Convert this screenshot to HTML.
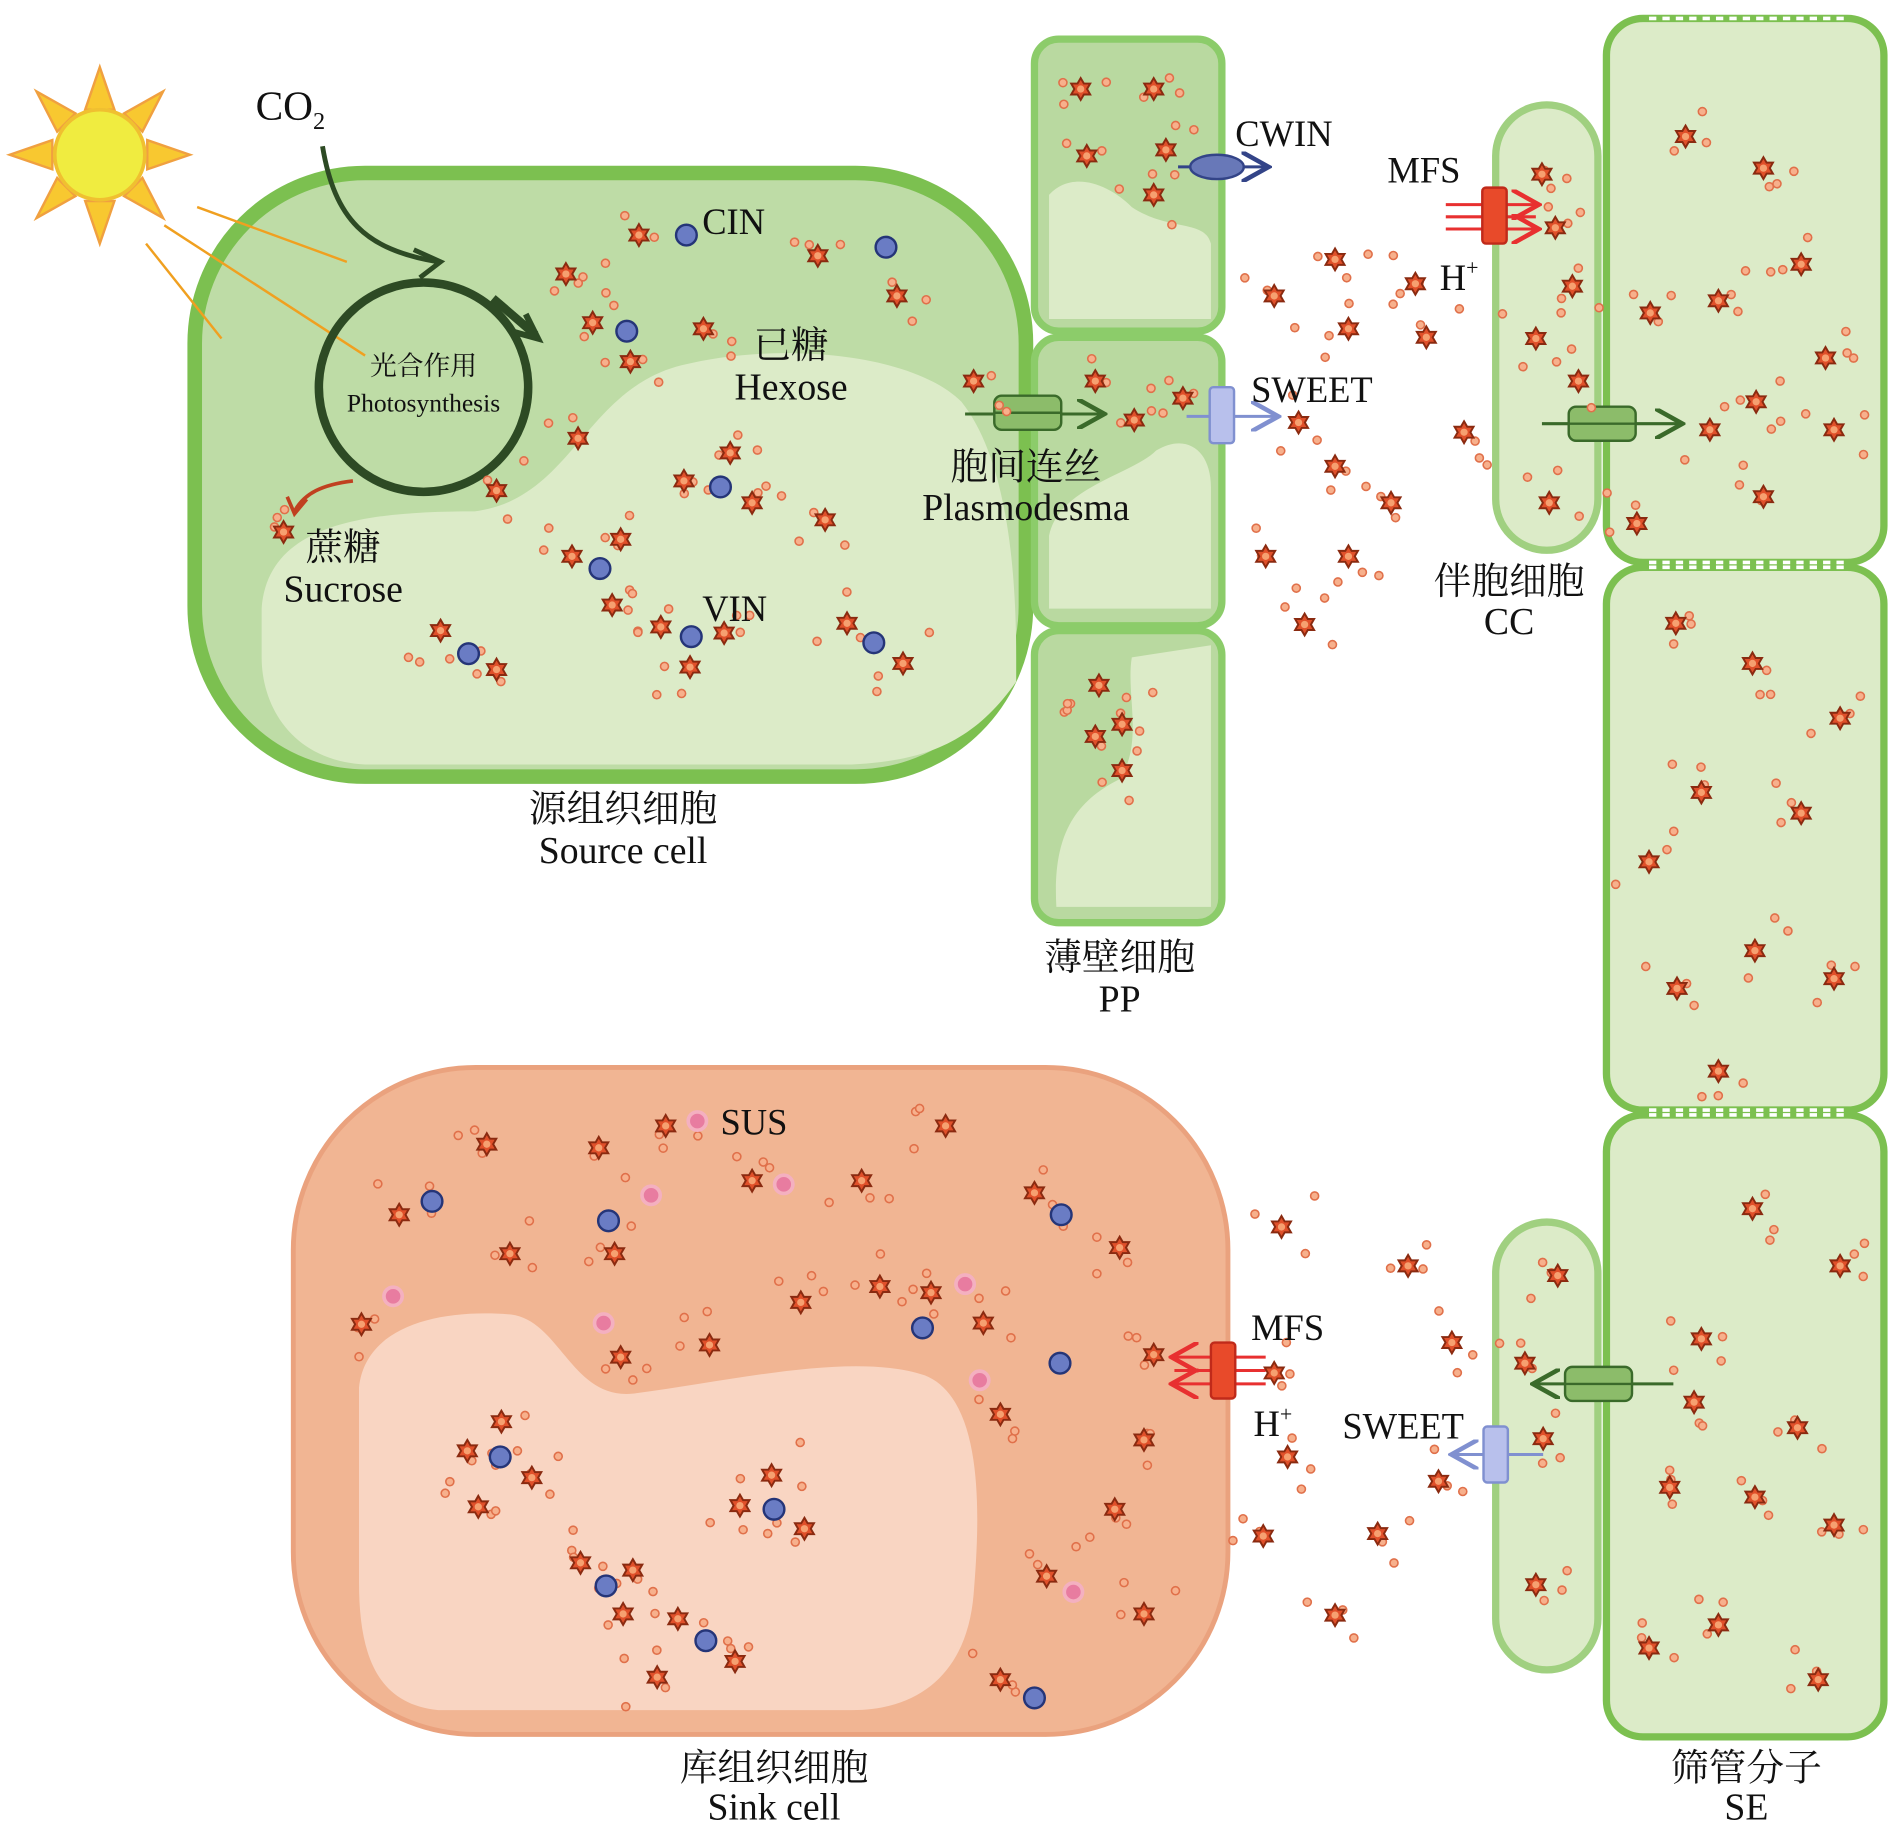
<!DOCTYPE html>
<html><head><meta charset="utf-8"><style>
html,body{margin:0;padding:0;background:#fff}
svg{display:block}
text{font-family:"Liberation Serif","Noto Serif CJK SC","Noto Sans CJK SC",serif;fill:#111}
</style></head><body>
<svg id="s" width="1890" height="1821" viewBox="0 0 1553 1496" xmlns="http://www.w3.org/2000/svg">
<defs>
<symbol id="st" viewBox="-10 -10 20 20" overflow="visible">
<polygon points="0,-9 2.6,-4.5 7.8,-4.5 5.2,0 7.8,4.5 2.6,4.5 0,9 -2.6,4.5 -7.8,4.5 -5.2,0 -7.8,-4.5 -2.6,-4.5" fill="#e0502a" stroke="#8a2a10" stroke-width="1.6"/>
<circle r="3" fill="#f6a070"/>
</symbol>
<marker id="ag" markerWidth="10" markerHeight="10" refX="8" refY="5" orient="auto"><path d="M0,0 L9,5 L0,10" fill="none" stroke="#3a6a2a" stroke-width="1.5"/></marker>
<marker id="ab" markerWidth="10" markerHeight="10" refX="8" refY="5" orient="auto"><path d="M0,0 L9,5 L0,10" fill="none" stroke="#8090d0" stroke-width="1.5"/></marker>
<marker id="ar" markerWidth="10" markerHeight="10" refX="8" refY="5" orient="auto"><path d="M0,0 L9,5 L0,10" fill="none" stroke="#e83030" stroke-width="1.5"/></marker>
<marker id="ad" markerWidth="10" markerHeight="10" refX="8" refY="5" orient="auto"><path d="M0,0 L9,5 L0,10" fill="none" stroke="#334488" stroke-width="1.5"/></marker>
</defs>
<!-- sun -->
<g fill="#f8c830" stroke="#f0a040" stroke-width="2">
<polygon points="82,55 94,90 70,90"/><polygon points="82,200 94,165 70,165"/>
<polygon points="8,127 43,115 43,139"/><polygon points="156,127 121,115 121,139"/>
<polygon points="30,75 62,93 47,108"/><polygon points="134,75 102,93 117,108"/>
<polygon points="30,179 62,161 47,146"/><polygon points="134,179 102,161 117,146"/>
</g>
<circle cx="82" cy="127" r="37" fill="#f0ec40" stroke="#f0c030" stroke-width="3"/>
<!-- source cell -->
<rect x="160" y="142" width="683" height="496" rx="140" fill="#bedca6" stroke="#7cc050" stroke-width="12"/>
<path d="M215,500 C220,430 300,420 390,420 C470,410 480,320 560,300 C640,280 750,290 790,330 C830,380 835,480 835,540 L835,560 C800,610 760,625 700,628 L300,628 C240,625 215,580 215,540 Z" fill="#dcebc8"/>
<line x1="162" y1="170" x2="285" y2="215" stroke="#f0a020" stroke-width="2"/>
<line x1="135" y1="185" x2="300" y2="292" stroke="#f0a020" stroke-width="2"/>
<line x1="120" y1="200" x2="182" y2="278" stroke="#f0a020" stroke-width="2"/>
<circle cx="348" cy="318" r="86" fill="none" stroke="#2d4a24" stroke-width="7"/>
<path d="M405,245 L440,275" stroke="#2d4a24" stroke-width="7" fill="none"/>
<path d="M265,120 C275,180 300,205 360,215" stroke="#2d4a24" stroke-width="4" fill="none"/>
<path d="M340,205 L362,215 L345,228" stroke="#2d4a24" stroke-width="4" fill="none"/>
<path d="M432,258 L442,278 L420,272" stroke="#2d4a24" stroke-width="5" fill="none"/>
<path d="M290,395 C265,398 250,405 242,420" stroke="#c04020" stroke-width="3" fill="none"/>
<path d="M236,408 L242,422 L252,410" stroke="#c04020" stroke-width="3" fill="none"/>
<!-- PP cells -->
<g fill="#b9d9a0" stroke="#8ccc6a" stroke-width="6">
<rect x="850" y="32" width="154" height="240" rx="20"/>
<rect x="850" y="277" width="154" height="237" rx="20"/>
<rect x="850" y="518" width="154" height="240" rx="20"/>
</g>
<g fill="#dcebc8">
<path d="M862,160 C880,140 910,150 930,170 C960,190 990,180 995,200 L995,262 L862,262 Z"/>
<path d="M862,440 C870,400 930,390 950,370 C975,355 995,370 995,400 L995,500 L862,500 Z"/>
<path d="M930,540 L995,530 L995,745 L868,745 C865,690 880,660 920,640 C940,610 925,570 930,540 Z"/>
</g>
<!-- CC -->
<rect x="1229" y="86" width="84" height="366" rx="42" fill="#dcebc8" stroke="#a0d080" stroke-width="6"/>
<rect x="1229" y="1004" width="84" height="368" rx="42" fill="#dcebc8" stroke="#a0d080" stroke-width="6"/>
<!-- SE -->
<g fill="#dcebc8" stroke="#7cc050" stroke-width="6">
<rect x="1320" y="15" width="228" height="447" rx="30"/>
<rect x="1320" y="466" width="228" height="446" rx="30"/>
<rect x="1320" y="916" width="228" height="511" rx="30"/>
</g>
<g stroke="#fff" stroke-width="3" stroke-dasharray="6,5">
<line x1="1355" y1="15" x2="1515" y2="15"/><line x1="1355" y1="462" x2="1515" y2="462"/>
<line x1="1355" y1="466" x2="1515" y2="466"/><line x1="1355" y1="912" x2="1515" y2="912"/>
<line x1="1355" y1="916" x2="1515" y2="916"/>
</g>
<!-- sink cell -->
<rect x="241" y="877" width="768" height="548" rx="150" fill="#f1b593" stroke="#eaa27e" stroke-width="4"/>
<path d="M295,1140 C300,1090 360,1075 420,1080 C460,1085 470,1150 520,1145 C600,1135 700,1110 760,1130 C810,1150 805,1250 800,1310 C795,1370 760,1405 700,1405 L360,1405 C310,1400 295,1360 295,1300 Z" fill="#f9d5c2"/>
<!-- transporters -->
<line x1="968" y1="137" x2="1040" y2="137" stroke="#334488" stroke-width="2.5" marker-end="url(#ad)"/>
<ellipse cx="1000" cy="137" rx="22" ry="10" fill="#6878b8" stroke="#334488" stroke-width="2"/>
<line x1="793" y1="340" x2="905" y2="340" stroke="#3a6a2a" stroke-width="2.5" marker-end="url(#ag)"/>
<rect x="817" y="325" width="55" height="28" rx="6" fill="#8cbc6a" stroke="#3a6a2a" stroke-width="2"/>
<line x1="817" y1="339" x2="872" y2="339" stroke="#3a6a2a" stroke-width="2"/>
<line x1="975" y1="342" x2="1048" y2="342" stroke="#8090d0" stroke-width="2.5" marker-end="url(#ab)"/>
<rect x="994" y="318" width="20" height="46" rx="3" fill="#b8c0ec" stroke="#8090d0" stroke-width="2"/>
<g stroke="#e83030" stroke-width="2.5"><line x1="1188" y1="168" x2="1262" y2="168" marker-end="url(#ar)"/><line x1="1188" y1="178" x2="1262" y2="178"/><line x1="1188" y1="188" x2="1262" y2="188" marker-end="url(#ar)"/></g>
<rect x="1218" y="154" width="20" height="46" rx="3" fill="#e84a2a" stroke="#c02a1a" stroke-width="2"/>
<line x1="1267" y1="348" x2="1380" y2="348" stroke="#3a6a2a" stroke-width="2.5" marker-end="url(#ag)"/>
<rect x="1289" y="334" width="55" height="28" rx="6" fill="#8cbc6a" stroke="#3a6a2a" stroke-width="2"/>
<line x1="1289" y1="348" x2="1344" y2="348" stroke="#3a6a2a" stroke-width="2"/>
<line x1="1375" y1="1137" x2="1262" y2="1137" stroke="#3a6a2a" stroke-width="2.5" marker-end="url(#ag)"/>
<rect x="1286" y="1123" width="55" height="28" rx="6" fill="#8cbc6a" stroke="#3a6a2a" stroke-width="2"/>
<line x1="1286" y1="1137" x2="1341" y2="1137" stroke="#3a6a2a" stroke-width="2"/>
<line x1="1268" y1="1195" x2="1195" y2="1195" stroke="#8090d0" stroke-width="2.5" marker-end="url(#ab)"/>
<rect x="1219" y="1172" width="20" height="46" rx="3" fill="#b8c0ec" stroke="#8090d0" stroke-width="2"/>
<g stroke="#e83030" stroke-width="2.5"><line x1="1040" y1="1115" x2="965" y2="1115" marker-end="url(#ar)"/><line x1="1040" y1="1126" x2="965" y2="1126"/><line x1="1040" y1="1137" x2="965" y2="1137" marker-end="url(#ar)"/></g>
<rect x="995" y="1103" width="20" height="46" rx="3" fill="#e84a2a" stroke="#c02a1a" stroke-width="2"/>
<g id="dots"></g>
<!-- labels -->
<text x="210" y="98" font-size="34">CO<tspan font-size="20" dy="8">2</tspan></text>
<text x="577" y="192" font-size="30">CIN</text>
<text x="348" y="308" font-size="22" text-anchor="middle">光合作用</text>
<text x="348" y="338" font-size="21" text-anchor="middle">Photosynthesis</text>
<text x="650" y="294" font-size="31" text-anchor="middle">已糖</text>
<text x="650" y="328" font-size="31" text-anchor="middle">Hexose</text>
<text x="282" y="460" font-size="31" text-anchor="middle">蔗糖</text>
<text x="282" y="494" font-size="31" text-anchor="middle">Sucrose</text>
<text x="577" y="510" font-size="30">VIN</text>
<text x="843" y="394" font-size="31" text-anchor="middle">胞间连丝</text>
<text x="843" y="427" font-size="31" text-anchor="middle">Plasmodesma</text>
<text x="512" y="675" font-size="31" text-anchor="middle">源组织细胞</text>
<text x="512" y="709" font-size="31" text-anchor="middle">Source cell</text>
<text x="920" y="797" font-size="31" text-anchor="middle">薄壁细胞</text>
<text x="920" y="831" font-size="31" text-anchor="middle">PP</text>
<text x="1015" y="120" font-size="30">CWIN</text>
<text x="1140" y="150" font-size="30">MFS</text>
<text x="1183" y="238" font-size="30">H<tspan font-size="18" dy="-12">+</tspan></text>
<text x="1028" y="330" font-size="30">SWEET</text>
<text x="1240" y="488" font-size="31" text-anchor="middle">伴胞细胞</text>
<text x="1240" y="521" font-size="31" text-anchor="middle">CC</text>
<text x="592" y="932" font-size="30">SUS</text>
<text x="1028" y="1101" font-size="30">MFS</text>
<text x="1030" y="1180" font-size="30">H<tspan font-size="18" dy="-12">+</tspan></text>
<text x="1103" y="1182" font-size="30">SWEET</text>
<text x="636" y="1463" font-size="31" text-anchor="middle">库组织细胞</text>
<text x="636" y="1495" font-size="31" text-anchor="middle">Sink cell</text>
<text x="1435" y="1463" font-size="31" text-anchor="middle">筛管分子</text>
<text x="1435" y="1495" font-size="31" text-anchor="middle">SE</text>
</svg>
<script>
var NS="http://www.w3.org/2000/svg",g=document.getElementById("dots");
function star(x,y,s){var u=document.createElementNS(NS,"use");u.setAttribute("href","#st");u.setAttribute("x",x-(s||10));u.setAttribute("y",y-(s||10));u.setAttribute("width",2*(s||10));u.setAttribute("height",2*(s||10));g.appendChild(u);}
function circ(x,y,r,f,s,w){var c=document.createElementNS(NS,"circle");c.setAttribute("cx",x);c.setAttribute("cy",y);c.setAttribute("r",r);c.setAttribute("fill",f);c.setAttribute("stroke",s);c.setAttribute("stroke-width",w);g.appendChild(c);}
var seed=7;function rnd(){seed=(seed*16807)%2147483647;return seed/2147483647;}
function small(x,y){circ(x,y,3.3,"#f7b08c","#e0704a",1.3);}
var big=[[525,193],[465,225],[487,265],[518,297],[578,270],[672,210],[737,243],[475,360],[408,403],[233,437],[600,372],[562,395],[618,413],[678,427],[470,457],[510,443],[503,497],[543,515],[595,520],[567,548],[362,518],[408,550],[696,512],[742,545],[800,313],
[888,73],[948,73],[893,128],[958,123],[948,160],[900,313],[932,345],[972,327],[903,563],[922,595],[900,605],[922,633],
[1097,213],[1047,243],[1108,270],[1163,233],[1172,277],[1067,347],[1097,383],[1143,413],[1203,355],[1040,457],[1108,457],[1072,513],
[1267,143],[1278,187],[1292,235],[1262,278],[1297,313],[1273,413],
[1385,112],[1449,138],[1480,217],[1356,257],[1412,247],[1500,294],[1443,330],[1405,353],[1507,353],[1449,408],[1345,430],
[1377,512],[1440,545],[1512,590],[1398,651],[1480,668],[1355,708],[1442,781],[1378,812],[1507,804],[1412,880],
[1440,993],[1512,1040],[1398,1100],[1392,1152],[1477,1173],[1372,1222],[1442,1230],[1507,1253],[1412,1335],[1355,1354],[1494,1380],
[1280,1048],[1253,1120],[1268,1182],[1262,1302],
[1053,1008],[1157,1040],[1193,1103],[1047,1128],[1058,1197],[1182,1217],[1132,1260],[1038,1262],[1097,1327],
[400,940],[492,943],[547,925],[777,925],[618,970],[708,970],[328,998],[419,1030],[505,1030],[850,980],[920,1025],[297,1088],[658,1070],[723,1057],[765,1062],[808,1087],[510,1115],[583,1105],[948,1113],[822,1162],[940,1183],[412,1168],[384,1192],[437,1214],[393,1238],[634,1212],[608,1237],[661,1256],[477,1284],[520,1290],[512,1326],[557,1330],[604,1365],[540,1378],[822,1380],[860,1295],[940,1326],[916,1240]];
big.forEach(function(p){for(var i=0;i<3;i++){small(p[0]+(rnd()-0.5)*55,p[1]+(rnd()-0.5)*55);}});
big.forEach(function(p){star(p[0],p[1],10);});
[[564,193],[728,203],[515,272],[592,400],[493,467],[568,523],[385,537],[718,528],[355,987],[500,1003],[872,998],[758,1091],[871,1120],[411,1197],[636,1240],[498,1303],[580,1348],[850,1395]].forEach(function(p){circ(p[0],p[1],8.5,"#6a7cc4","#253578",2);});
[[573,921],[644,973],[535,982],[323,1065],[496,1087],[793,1055],[805,1134],[882,1308]].forEach(function(p){circ(p[0],p[1],7.5,"#e87ca0","#f4b0c0",3);});
</script>
</body></html>
